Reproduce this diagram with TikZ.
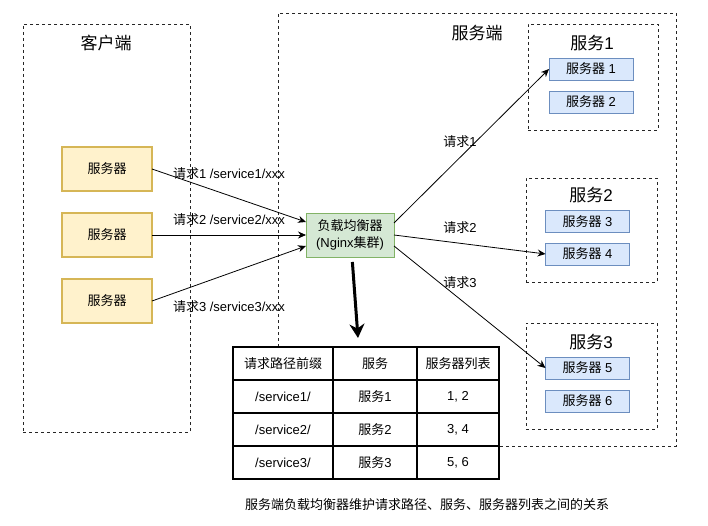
\documentclass[tikz,border=0pt]{standalone}
\usepackage{fontspec}
\setmainfont{Liberation Sans}
\newfontfamily\cjk{Noto Sans CJK SC}
\usetikzlibrary{arrows.meta}
\definecolor{yfill}{HTML}{FFF2CC}
\definecolor{yline}{HTML}{D6B656}
\definecolor{gfill}{HTML}{D5E8D4}
\definecolor{gline}{HTML}{82B366}
\definecolor{bfill}{HTML}{DAE8FC}
\definecolor{bline}{HTML}{6C8EBF}
\begin{document}
\begin{tikzpicture}[x=1pt,y=-1pt,
  every node/.style={font=\fontsize{13}{15}\selectfont, inner sep=0pt, outer sep=0pt},
  grp/.style={draw=black!85, dash pattern=on 3pt off 3pt, line width=0.8pt},
  ttl/.style={font=\fontsize{17}{20}\selectfont},
  ysrv/.style={draw=yline, fill=yfill, line width=1.2pt, minimum width=90pt, minimum height=44pt},
  bsrv/.style={draw=bline, fill=bfill, line width=0.9pt, minimum width=84pt, minimum height=22pt},
  lbbox/.style={draw=gline, fill=gfill, line width=0.9pt, minimum width=88pt, minimum height=44pt, align=center, font=\fontsize{13}{17}\selectfont},
  cell/.style={draw=black, fill=white, line width=1.2pt, minimum height=33pt},
  arr/.style={draw=black, line width=0.8pt, -{Stealth[length=8pt,width=7pt]}},
  bigarr/.style={draw=black, line width=3pt, -{Stealth[length=14pt,width=15pt]}}
]
\useasboundingbox (0,0) rectangle (708,526);
\fill[white] (0,0) rectangle (708,526);

% group boxes
\node[grp, minimum width=167pt, minimum height=408pt] (client) at (106.5,228) {};
\node[grp, minimum width=398pt, minimum height=433pt] (server) at (477,229.5) {};
\node[grp, minimum width=130pt, minimum height=106pt] (svc1) at (593,77) {};
\node[grp, minimum width=131pt, minimum height=104pt] (svc2) at (591.5,230) {};
\node[grp, minimum width=131pt, minimum height=106pt] (svc3) at (591.5,376) {};

% titles
\node[ttl] (tclient) at (106,43) {\cjk 客户端};
\node[ttl] (tserver) at (477,33) {\cjk 服务端};
\node[ttl] (tsvc1) at (592,43) {{\cjk 服务}1};
\node[ttl] (tsvc2) at (591,195) {{\cjk 服务}2};
\node[ttl] (tsvc3) at (591,342) {{\cjk 服务}3};

% client servers
\node[ysrv] (c1) at (107,169) {\cjk 服务器};
\node[ysrv] (c2) at (107,235) {\cjk 服务器};
\node[ysrv] (c3) at (107,301) {\cjk 服务器};

% load balancer
\node[lbbox] (lb) at (350,235) {{\cjk 负载均衡器}\\({N}ginx{\cjk 集群})};

% service servers
\node[bsrv] (s1) at (591,69) {{\cjk 服务器} 1};
\node[bsrv] (s2) at (591,102) {{\cjk 服务器} 2};
\node[bsrv] (s3) at (587.5,221.5) {{\cjk 服务器} 3};
\node[bsrv] (s4) at (587.5,254) {{\cjk 服务器} 4};
\node[bsrv] (s5) at (587.5,368) {{\cjk 服务器} 5};
\node[bsrv] (s6) at (587.5,401) {{\cjk 服务器} 6};

% arrows client -> lb
\draw[arr] (c1.east) -- ([yshift=13pt]lb.west);
\draw[arr] (c2.east) -- (lb.west);
\draw[arr] (c3.east) -- ([yshift=-11pt]lb.west);
\node (l1) at (229,174) {{\cjk 请求}1 /service1/xxx};
\node (l2) at (229,220) {{\cjk 请求}2 /service2/xxx};
\node (l3) at (229,307) {{\cjk 请求}3 /service3/xxx};

% arrows lb -> services
\draw[arr] ([yshift=12pt]lb.east) -- (s1.west);
\draw[arr] (lb.east) -- (s4.west);
\draw[arr] ([yshift=-11pt]lb.east) -- (s5.west);
\node (r1) at (460,142) {{\cjk 请求}1};
\node (r2) at (460,228) {{\cjk 请求}2};
\node (r3) at (460,283) {{\cjk 请求}3};

% table
\node[cell, minimum width=100pt] (t11) at (283,363.5) {\cjk 请求路径前缀};
\node[cell, minimum width=84pt]  (t12) at (375,363.5) {\cjk 服务};
\node[cell, minimum width=82pt]  (t13) at (458,363.5) {\cjk 服务器列表};
\node[cell, minimum width=100pt] (t21) at (283,396.5) {/service1/};
\node[cell, minimum width=84pt]  (t22) at (375,396.5) {{\cjk 服务}1};
\node[cell, minimum width=82pt]  (t23) at (458,396.5) {1, 2};
\node[cell, minimum width=100pt] (t31) at (283,429.5) {/service2/};
\node[cell, minimum width=84pt]  (t32) at (375,429.5) {{\cjk 服务}2};
\node[cell, minimum width=82pt]  (t33) at (458,429.5) {3, 4};
\node[cell, minimum width=100pt] (t41) at (283,462.5) {/service3/};
\node[cell, minimum width=84pt]  (t42) at (375,462.5) {{\cjk 服务}3};
\node[cell, minimum width=82pt]  (t43) at (458,462.5) {5, 6};

% thick arrow
\coordinate (tip) at (358,338);
\draw[bigarr, shorten <=5pt] ([xshift=2pt]lb.south) -- (tip);

% caption
\node (cap) at (427,505) {\cjk 服务端负载均衡器维护请求路径、服务、服务器列表之间的关系};
\end{tikzpicture}
\end{document}
